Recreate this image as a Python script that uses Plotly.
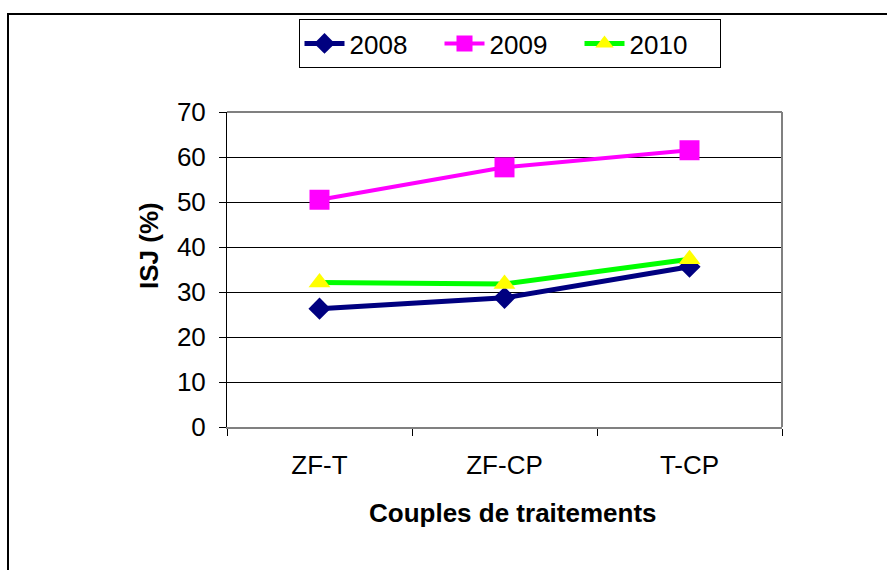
import plotly.graph_objects as go

# Couples de traitements et indice ISJ (%) par année
categories = ["ZF-T", "ZF-CP", "T-CP"]
isj_2008 = [26.3, 28.7, 35.6]
isj_2009 = [50.5, 57.7, 61.5]
isj_2010 = [32.1, 31.8, 37.3]
y_ticks = [0, 10, 20, 30, 40, 50, 60, 70]

W, H = 887, 570
L, R, T, B = 227, 782, 112, 427  # plot area in pixels
FONT = "Liberation Sans, Arial, sans-serif"
FS = 26


def px_x(x):
    return (x - L) / (R - L)


def px_y(y):
    return (B - y) / (B - T)


fig = go.Figure()
fig.add_trace(go.Scatter(
    x=categories, y=isj_2008, name="2008", mode="lines+markers",
    line=dict(color="#000080", width=5),
    marker=dict(symbol="diamond", size=17, color="#000080"),
))
fig.add_trace(go.Scatter(
    x=categories, y=isj_2009, name="2009", mode="lines+markers",
    line=dict(color="#FF00FF", width=4),
    marker=dict(symbol="square", size=20, color="#FF00FF"),
))
fig.add_trace(go.Scatter(
    x=categories, y=isj_2010, name="2010", mode="lines+markers",
    line=dict(color="#00FF00", width=5),
    marker=dict(symbol="triangle-up", size=19, color="#FFFF00"),
))

fig.update_layout(
    width=W, height=H,
    margin=dict(l=L, r=W - R, t=T, b=H - B, pad=0),
    paper_bgcolor="white", plot_bgcolor="white",
    font=dict(family=FONT, size=FS, color="black"),
    showlegend=True,
    legend=dict(
        orientation="h", x=px_x(509.5), y=px_y(19),
        xanchor="center", yanchor="top",
        bordercolor="black", borderwidth=1, bgcolor="white",
        font=dict(size=FS), itemwidth=40, entrywidth=85,
        tracegroupgap=0,
    ),
    xaxis=dict(
        type="category", range=[-0.5, 2.5], tickson="boundaries",
        ticks="outside", ticklen=7, tickcolor="black",
        showgrid=False, zeroline=False,
        showline=True, linecolor="#808080", linewidth=2,
        tickfont=dict(size=FS), ticklabelstandoff=14,
    ),
    yaxis=dict(
        range=[0, 70], tickvals=y_ticks, ticks="outside", ticklen=7,
        tickcolor="black", showgrid=True, gridcolor="black", gridwidth=1,
        zeroline=False, showline=True, linecolor="black", linewidth=1,
        tickfont=dict(size=FS), ticklabelstandoff=8,
    ),
    shapes=[
        # outer chart frame
        dict(type="rect", xref="paper", yref="paper",
             x0=px_x(8), x1=px_x(895), y0=px_y(578), y1=px_y(14),
             line=dict(color="black", width=2), layer="below"),
        # plot area border (top and right)
        dict(type="line", xref="paper", yref="paper",
             x0=0, x1=1, y0=1, y1=1,
             line=dict(color="#808080", width=2), layer="above"),
        dict(type="line", xref="paper", yref="paper",
             x0=1, x1=1, y0=0, y1=1,
             line=dict(color="#808080", width=2), layer="above"),
    ],
    annotations=[
        dict(text="<b>ISJ (%)</b>", xref="paper", yref="paper",
             x=px_x(149), y=px_y(246), textangle=-90, showarrow=False,
             xanchor="center", yanchor="middle", font=dict(size=FS)),
        dict(text="<b>Couples de traitements</b>", xref="paper", yref="paper",
             x=px_x(513), y=px_y(513), showarrow=False,
             xanchor="center", yanchor="middle", font=dict(size=FS)),
    ],
)

fig.write_html("out.html")
